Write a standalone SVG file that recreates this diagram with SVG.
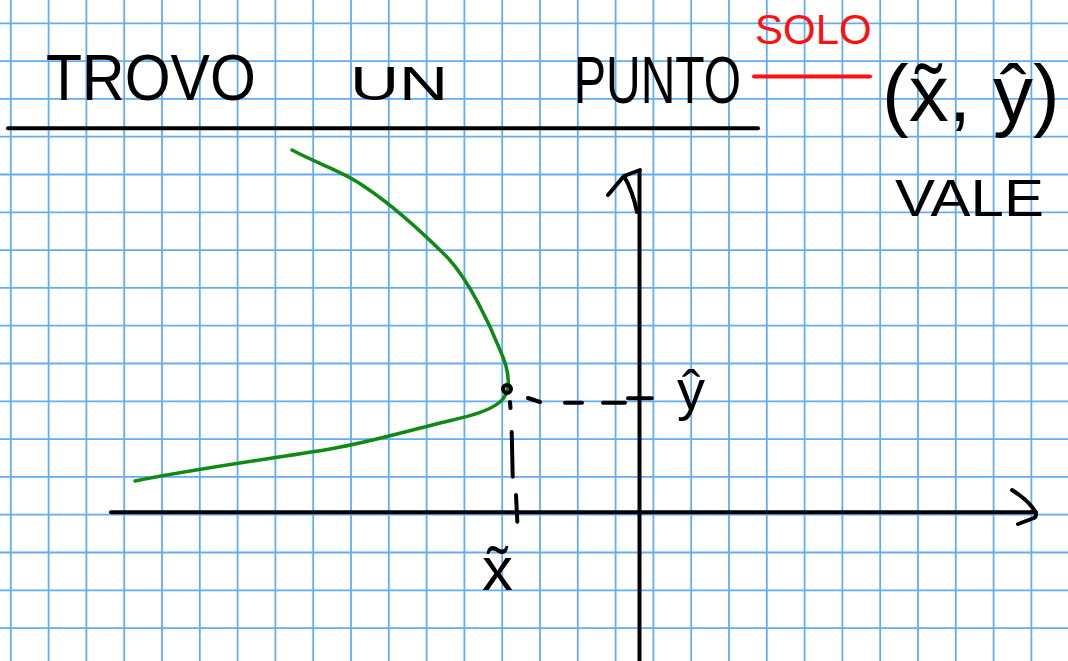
<svg xmlns="http://www.w3.org/2000/svg" width="1068" height="661" viewBox="0 0 1068 661">
<style>
.grid{stroke:#62adf4;stroke-width:1.8;fill:none}
.ink{stroke:#000;stroke-width:4;fill:none;stroke-linecap:round;stroke-linejoin:round}
.curve{stroke:#0f8a14;stroke-width:3.5;fill:none;stroke-linecap:round;stroke-linejoin:round}
.red{stroke:#ff1010;stroke-width:4;fill:none;stroke-linecap:round}
.t{font-family:"Liberation Sans","DejaVu Sans",sans-serif;fill:#000}
.tr{font-family:"Liberation Sans","DejaVu Sans",sans-serif;fill:#ff1010}
</style>
<rect width="1068" height="661" fill="#fff"/>
<g id="grid">
<path class="grid" d="M10.8 0V661M48.6 0V661M86.4 0V661M124.2 0V661M162 0V661M199.8 0V661M237.6 0V661M275.4 0V661M313.2 0V661M351 0V661M388.8 0V661M426.6 0V661M464.4 0V661M502.2 0V661M540 0V661M577.8 0V661M615.6 0V661M653.4 0V661M691.2 0V661M729 0V661M766.8 0V661M804.6 0V661M842.4 0V661M880.2 0V661M918 0V661M955.8 0V661M993.6 0V661M1031.4 0V661"/>
<path class="grid" d="M0 23.3H1068M0 61.1H1068M0 98.9H1068M0 136.7H1068M0 174.5H1068M0 212.3H1068M0 250.1H1068M0 287.9H1068M0 325.7H1068M0 363.5H1068M0 401.3H1068M0 439.1H1068M0 476.9H1068M0 514.7H1068M0 552.5H1068M0 590.3H1068M0 628.1H1068"/>
</g>
<g id="title">
<text class="t" transform="translate(46 100) scale(1 1.1)" font-size="59">TROVO</text>
<text class="t" transform="translate(350 100) scale(1 0.72)" font-size="68">UN</text>
<text class="t" transform="translate(574 103) scale(1 1.4)" font-size="48">PUNTO</text>
<path class="ink" d="M8 128.3H758"/>
<text class="tr" x="755" y="44" font-size="42">SOLO</text>
<path class="red" d="M754 76.5H870"/>
<text class="t" x="882" y="121" font-size="80">(x̃, ŷ)</text>
<text class="t" transform="translate(895 216) scale(1 0.85)" font-size="60">VALE</text>
</g>
<g id="axes">
<path class="ink" d="M111 512.3H1036"/>
<path class="ink" d="M1012 490Q1026 499 1032 507Q1039 515 1034 518L1018 524"/>
<path class="ink" d="M639.5 661V171"/>
<path class="ink" d="M608 195L624 176L640 170M624 176Q633 192 637 212"/>
</g>
<g id="curve">
<path class="curve" d="M292 150C320 165 345 172 365 187C395 207 425 235 448 258C470 282 490 325 500 350C510 372 512 392 500 402C485 414 460 418 440 423C400 433 370 442 330 449C270 459 200 468 135 481"/>
</g>
<g id="connectors">
<circle class="ink" cx="507" cy="389" r="4" stroke-width="3.5"/>
<path class="ink" d="M510 402L510.5 408M528 398L540 402M565 402.7H582M603 402.7H625M628 398.3H651.7M511.7 432L512.7 476.7M516 495L517.3 521.7"/>
</g>
<g id="labels">
<text class="t" x="677" y="409" font-size="56">ŷ</text>
<text class="t" x="482" y="590" font-size="62">x̃</text>
</g>
</svg>
